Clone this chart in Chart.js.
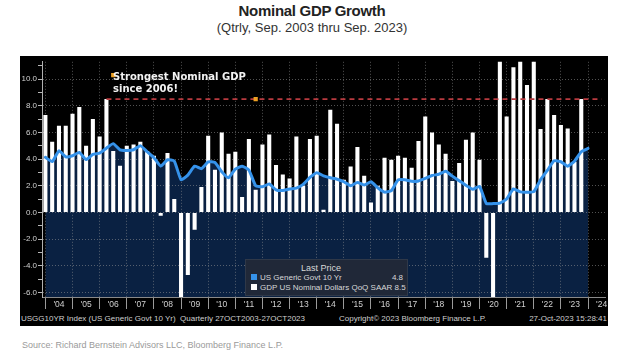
<!DOCTYPE html>
<html><head><meta charset="utf-8">
<script src="https://cdn.jsdelivr.net/npm/chart.js@4.4.0/dist/chart.umd.min.js"></script>
<style>
html,body{margin:0;padding:0;background:#fff;width:624px;height:356px;overflow:hidden;position:relative;}
#title{position:absolute;left:0;width:624px;top:2px;text-align:center;font:bold 15px "Liberation Sans Narrow","Liberation Sans",Arial,sans-serif;color:#222;letter-spacing:-0.3px;}
#subtitle{position:absolute;left:0;width:624px;top:20px;text-align:center;font:13px "Liberation Sans Narrow","Liberation Sans",Arial,sans-serif;color:#333;}
#panel{position:absolute;left:20px;top:56px;width:588px;height:270px;background:#000;}
#c{position:absolute;left:0;top:0;}
#note{position:absolute;left:93px;top:15px;font:bold 10px "DejaVu Sans",sans-serif;line-height:12px;color:#f2f2f2;white-space:nowrap;}
#legend{position:absolute;left:225px;top:203px;width:163px;height:37px;background:#202838;border:1px solid #2f3848;box-sizing:border-box;font:8px "Liberation Sans",Arial,sans-serif;color:#d8d8d8;}
#legend .hd{position:absolute;left:0;width:150px;top:3px;text-align:center;font-size:9px;}
#legend .row{position:absolute;left:5px;right:4px;height:10px;line-height:10px;white-space:nowrap;}
#legend .sw{display:inline-block;width:6px;height:6px;margin-right:3px;vertical-align:0px;}
#legend .v{position:absolute;right:0;top:0;}
#strip{position:absolute;left:0;top:258px;width:588px;height:12px;font:8px "Liberation Sans",Arial,sans-serif;color:#cfcfcf;white-space:nowrap;}
#strip span{position:absolute;top:0;}
#source{position:absolute;left:22px;top:340px;font:9px "Liberation Sans Narrow","Liberation Sans",Arial,sans-serif;color:#9a9a9a;}
</style></head>
<body>
<div id="title">Nominal GDP Growth</div>
<div id="subtitle">(Qtrly, Sep. 2003 thru Sep. 2023)</div>
<div id="panel">
  <canvas id="c" width="588" height="256"></canvas>
  <div id="note">Strongest Nominal GDP<br>since 2006!</div>
  <div id="legend">
    <div class="hd">Last Price</div>
    <div class="row" style="top:13px"><span class="sw" style="background:#3592ea"></span>US Generic Govt 10 Yr<span class="v">4.8</span></div>
    <div class="row" style="top:23px"><span class="sw" style="background:#fff"></span>GDP US Nominal Dollars QoQ SAAR 8.5</div>
  </div>
  <div id="strip">
    <span style="left:1px">USGG10YR Index (US Generic Govt 10 Yr)&nbsp; Quarterly 27OCT2003-27OCT2023</span>
    <span style="left:319px">Copyright© 2023 Bloomberg Finance L.P.</span>
    <span style="right:1px">27-Oct-2023 15:28:41</span>
  </div>
</div>
<div id="source">Source: Richard Bernstein Advisors LLC, Bloomberg Finance L.P.</div>
<script>
const quarters = [
 'Q4 2003',
 'Q1 2004','Q2 2004','Q3 2004','Q4 2004',
 'Q1 2005','Q2 2005','Q3 2005','Q4 2005',
 'Q1 2006','Q2 2006','Q3 2006','Q4 2006',
 'Q1 2007','Q2 2007','Q3 2007','Q4 2007',
 'Q1 2008','Q2 2008','Q3 2008','Q4 2008',
 'Q1 2009','Q2 2009','Q3 2009','Q4 2009',
 'Q1 2010','Q2 2010','Q3 2010','Q4 2010',
 'Q1 2011','Q2 2011','Q3 2011','Q4 2011',
 'Q1 2012','Q2 2012','Q3 2012','Q4 2012',
 'Q1 2013','Q2 2013','Q3 2013','Q4 2013',
 'Q1 2014','Q2 2014','Q3 2014','Q4 2014',
 'Q1 2015','Q2 2015','Q3 2015','Q4 2015',
 'Q1 2016','Q2 2016','Q3 2016','Q4 2016',
 'Q1 2017','Q2 2017','Q3 2017','Q4 2017',
 'Q1 2018','Q2 2018','Q3 2018','Q4 2018',
 'Q1 2019','Q2 2019','Q3 2019','Q4 2019',
 'Q1 2020','Q2 2020','Q3 2020','Q4 2020',
 'Q1 2021','Q2 2021','Q3 2021','Q4 2021',
 'Q1 2022','Q2 2022','Q3 2022','Q4 2022',
 'Q1 2023','Q2 2023','Q3 2023','Q4 2023',
 'Q1 2024','Q2 2024'
];
const yearTickLabels = ["'04","'05","'06","'07","'08","'09","'10","'11","'12","'13","'14","'15","'16","'17","'18","'19","'20","'21","'22","'23","'24"];

// GDP US Nominal Dollars QoQ SAAR (%), Q4 2003 .. Q3 2023
const gdpGrowth = [
 7.3, 5.3, 6.5, 6.5, 7.4, 7.9, 5.0, 7.0, 5.7, 8.5,
 4.6, 3.5, 5.0, 5.1, 5.3, 4.6, 4.25, -0.25, 4.45, 1.0,
 -7.6, -4.7, -1.3, 1.9, 5.75, 3.2, 6.0, 4.4, 4.55, 1.15,
 5.5, 1.7, 5.1, 5.85, 3.55, 2.85, 2.55, 5.7, 2.0, 5.5,
 5.75, 0.2, 7.7, 6.65, 2.45, 3.45, 4.9, 2.75, 0.75, 2.0,
 4.1, 3.95, 4.25, 4.1, 3.35, 5.35, 7.2, 6.0, 5.1, 4.4,
 2.35, 3.7, 5.45, 6.0, 3.95, -3.4, -31.4, 38.3, 7.2, 10.9,
 13.4, 9.55, 14.3, 6.25, 8.5, 7.3, 6.55, 6.3, 3.8, 8.5
];
// US Generic Govt 10 Yr (%), Q4 2003 .. 27 Oct 2023
const tenYearYield = [
 4.13, 3.81, 4.62, 4.16, 4.25, 4.5, 3.96, 4.35, 4.45, 4.82,
 5.16, 4.69, 4.65, 4.7, 5.01, 4.55, 4.1, 3.47, 3.95, 3.85,
 2.45, 2.8, 3.47, 3.28, 3.79, 3.74, 3.05, 2.6, 3.25, 3.47,
 3.18, 2.0, 1.93, 2.13, 1.69, 1.64, 1.76, 1.82, 2.1, 2.62,
 2.98, 2.74, 2.6, 2.49, 2.3, 2.0, 2.25, 2.05, 2.3, 1.85,
 1.52, 1.64, 2.44, 2.45, 2.33, 2.36, 2.55, 2.77, 2.86, 3.08,
 2.72, 2.38, 2.03, 1.74, 1.95, 0.67, 0.66, 0.69, 1.0, 1.76,
 1.54, 1.52, 1.55, 2.45, 3.15, 3.87, 3.8, 3.47, 3.84, 4.55,
 4.8
];
const strongLevel = 8.5;
const strongSince = 'Q1 2006';
const markerQuarters = ['Q2 2006', 'Q3 2011'];
const markerValues = [10.3, 8.5];

const barData = quarters.map((q, i) => i < gdpGrowth.length ? gdpGrowth[i] : null);
const lineData = quarters.map((q, i) => i < tenYearYield.length ? tenYearYield[i] : null);
const startIdx = quarters.indexOf(strongSince);
const refData = quarters.map((q, i) => i >= startIdx ? strongLevel : null);
const markerData = markerQuarters.map((q, k) => ({x: q, y: markerValues[k]}));

const isQ = (i, n) => quarters[i] && quarters[i].startsWith('Q' + n);
const yearLabel = i => isQ(i, 2) ? yearTickLabels[parseInt(quarters[i].slice(3)) - 2004] : '';
const gridCol = 'rgba(150,150,150,0.55)';
const clear = 'rgba(0,0,0,0)';

new Chart(document.getElementById('c'), {
  type: 'bar',
  data: {
    labels: quarters,
    datasets: [
      {type: 'line', label: 'markers', data: markerData, showLine: false, pointStyle: 'rect',
       pointRadius: 3, pointBackgroundColor: '#eda023', pointBorderWidth: 0, order: -1},
      {type: 'line', label: 'US Generic Govt 10 Yr', data: lineData, borderColor: '#3592ea',
       borderWidth: 3, pointRadius: 0, tension: 0.15, fill: 'start', backgroundColor: '#0a2142',
       borderJoinStyle: 'round', borderCapStyle: 'round', order: 0},
      {type: 'line', label: 'ref', data: refData, borderColor: '#b83a3f', borderWidth: 1.6,
       borderDash: [5, 4], pointRadius: 0, fill: false, order: 1},
      {type: 'bar', label: 'GDP US Nominal Dollars QoQ SAAR', data: barData, backgroundColor: '#ffffff',
       categoryPercentage: 1, barPercentage: 0.6, order: 2}
    ]
  },
  options: {
    responsive: false, animation: false, devicePixelRatio: 1,
    layout: {autoPadding: false, padding: {left: 0, right: 3, top: 1, bottom: 0}},
    plugins: {legend: {display: false}, tooltip: {enabled: false}, filler: {drawTime: 'beforeDraw'}},
    scales: {
      x: {
        offset: true,
        grid: {offset: false, lineWidth: 1, tickLength: 12,
               color: c => isQ(c.index, 4) ? gridCol : clear,
               tickColor: c => isQ(c.index, 4) ? '#9a9a9a' : clear},
        border: {display: true, color: '#8a8a8a', dash: [1, 2]},
        ticks: {autoSkip: false, maxRotation: 0, minRotation: 0, padding: -9, color: '#d0d0d0',
                font: {family: 'Liberation Sans', size: 8.5}, callback: (v, i) => yearLabel(i)},
        afterFit: s => { s.height = 15; }
      },
      y: {
        min: -6.35, max: 11.3,
        grid: {lineWidth: 1, tickLength: 4,
               color: c => (c.tick && Math.round(c.tick.value) % 2 === 0) ? gridCol : clear,
               tickColor: '#b8b8b8'},
        border: {display: true, color: '#b0b0b0', dash: [1, 2]},
        ticks: {stepSize: 1, includeBounds: false, padding: 1, color: '#d0d0d0',
                font: {family: 'Liberation Sans', size: 8},
                callback: v => (Math.round(v) % 2 === 0) ? v.toFixed(1) : ''},
        afterFit: s => { s.width = 22; }
      }
    }
  }
});
</script>
</body></html>
